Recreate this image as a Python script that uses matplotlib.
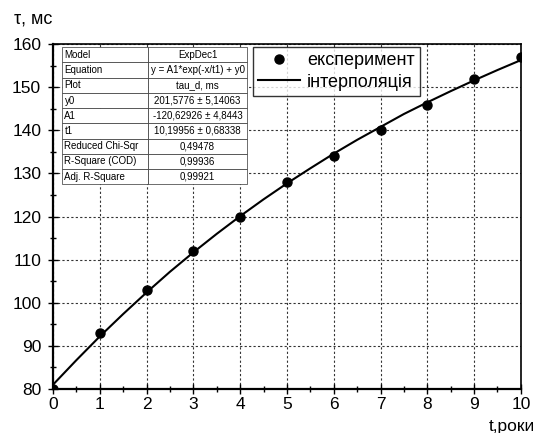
import matplotlib
matplotlib.use('Agg')
import matplotlib.pyplot as plt
from matplotlib.ticker import MultipleLocator

plt.rcParams['font.family'] = ['Liberation Sans', 'DejaVu Sans']

# experimental points
t_exp = [0, 1, 2, 3, 4, 5, 6, 7, 8, 9, 10]
tau_exp = [80, 93, 103, 112, 120, 128, 134, 140, 146, 152, 157]

# interpolation curve, every half year
t_fit = [0, 0.5, 1, 1.5, 2, 2.5, 3, 3.5, 4, 4.5, 5,
         5.5, 6, 6.5, 7, 7.5, 8, 8.5, 9, 9.5, 10]
tau_fit = [81.0, 86.7, 92.2, 97.4, 102.4, 107.2, 111.7, 116.0, 120.1, 124.0, 127.7,
           131.2, 134.6, 137.8, 140.8, 143.8, 146.5, 149.1, 151.6, 154.0, 156.3]

# fit report table
table_rows = [
    ['Model', 'ExpDec1'],
    ['Equation', 'y = A1*exp(-x/t1) + y0'],
    ['Plot', 'tau_d, ms'],
    ['y0', '201,5776 ± 5,14063'],
    ['A1', '-120,62926 ± 4,8443'],
    ['t1', '10,19956 ± 0,68338'],
    ['Reduced Chi-Sqr', '0,49478'],
    ['R-Square (COD)', '0,99936'],
    ['Adj. R-Square', '0,99921'],
]

fig = plt.figure(figsize=(5.37, 4.33), dpi=100)
ax = fig.add_axes([0.0987, 0.1016, 0.8713, 0.7964])

ax.plot(t_fit, tau_fit, color='black', lw=1.5, label='інтерполяція', zorder=3)
ax.plot(t_exp, tau_exp, 'o', color='black', ms=6.5, label='експеримент', zorder=4)

ax.set_xlim(0, 10)
ax.set_ylim(80, 160)
ax.xaxis.set_major_locator(MultipleLocator(1))
ax.xaxis.set_minor_locator(MultipleLocator(0.5))
ax.yaxis.set_major_locator(MultipleLocator(10))
ax.yaxis.set_minor_locator(MultipleLocator(5))
ax.tick_params(which='major', direction='inout', length=7, width=1,
               labelsize=12.5, top=False, right=False, pad=2)
ax.tick_params(axis='y', which='major', pad=5)
ax.tick_params(which='minor', direction='inout', length=4, width=1,
               top=False, right=False)
for s in ax.spines.values():
    s.set_linewidth(1.2)
ax.spines['left'].set_linewidth(1.6)
ax.spines['bottom'].set_linewidth(1.6)

ax.grid(True, which='major', color='#333333', ls=(0, (2, 2)), lw=0.8)

fig.text(0.026, 0.956, 'τ, мс', fontsize=13, ha='left', va='center')
fig.text(0.996, 0.015, 't,роки', fontsize=12.5, ha='right', va='center')

h, l = ax.get_legend_handles_labels()
leg = ax.legend([h[1], h[0]], [l[1], l[0]], loc='upper left',
                bbox_to_anchor=(0.427, 0.993), fontsize=13, frameon=True,
                fancybox=False, edgecolor='black', handlelength=2.3,
                borderpad=0.3, labelspacing=0.25, handletextpad=0.4,
                borderaxespad=0)
leg.get_frame().set_linewidth(1.0)
leg.set_zorder(10)

tbl = ax.table(cellText=table_rows, bbox=[0.019, 0.594, 0.396, 0.397],
               colWidths=[0.184, 0.212], zorder=10)
tbl.auto_set_font_size(False)
tbl.set_fontsize(7)
for (r, c), cell in tbl.get_celld().items():
    cell.set_linewidth(0.5)
    cell.set_edgecolor('#333333')
    cell.set_facecolor('white')
    if c == 0:
        cell.set_text_props(ha='left')
        cell.PAD = 0.03
    else:
        cell.set_text_props(ha='center')

fig.savefig('out.png', dpi=100)
